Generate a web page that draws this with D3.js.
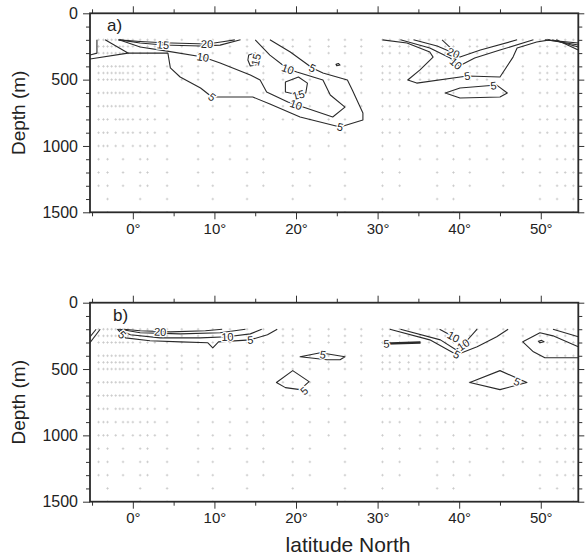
<!DOCTYPE html>
<html>
<head>
<meta charset="utf-8">
<script src="https://cdn.jsdelivr.net/npm/d3@7"></script>
<style>
  html, body { margin: 0; padding: 0; background: #fff; }
  svg { display: block; font-family: "Liberation Sans", Arial, Helvetica, sans-serif; }
</style>
</head>
<body>
<svg id="chart" width="585" height="559"></svg>
<script>
// ---- axis ticks -------------------------------------------------------
const latMajorTicks = [0, 10, 20, 30, 40, 50];
const latMinorTicks = [-5, 5, 15, 25, 35, 45];
const depthMajorTicks = [0, 500, 1000, 1500];
const depthMinorTicks = [100, 200, 300, 400, 600, 700, 800, 900, 1100, 1200, 1300, 1400];

// ---- sampling stations (latitude, deepest sampled level) ---------------
const stationLat = [-4.2, -3.6, -3.1, -2.6, -2.1, -1.6, -1.2, -0.6, 0, 0.9, 1.8, 2.7, 4.2, 6.0,
  8.0, 9.8, 11.9, 14.0, 16.0, 18.4, 19.6, 21.7, 24.0, 26.0, 28.0, 30.6, 31.5, 32.7, 33.8, 35.2,
  36.3, 37.3, 38.3, 39.3, 41.3, 42.2, 43.4, 45.4, 47.8, 49.9, 50.8, 52.0, 53.0, 54.0];
const stationBottom = [1300, 1000, 1500, 700, 1000, 800, 1300, 900, 1000, 1500, 1300, 1000, 1500, 500,
  1300, 1500, 1100, 1400, 1300, 800, 1500, 1300, 1000, 1500, 700, 1500, 900, 1300, 800, 1100,
  600, 1400, 900, 1500, 1300, 700, 1100, 1300, 1200, 1500, 900, 1400, 1300, 1500];
const sampleDepths = [200, 250, 300, 400, 450, 500, 600, 700, 800, 900, 1000, 1100, 1200, 1300, 1400, 1500];

// ---- panel a contours: [latitude, depth] --------------------------------
const contoursA = [
  { level: 5,  closed: false, pts: [[-4.4,200],[-4.4,300],[-5.25,315]] },
  { level: 5,  closed: false, pts: [[-3.4,200],[-0.6,300],[-5.25,345]] },
  { level: 20, closed: false, pts: [[-1.8,200],[0.9,212],[3.7,222],[9.1,231],[11.0,214],[12.5,200]] },
  { level: 15, closed: false, pts: [[-1.6,200],[0.9,224],[3.7,239],[8.3,246],[10.7,240],[13.2,200]] },
  { level: 10, closed: false, pts: [[-1.7,200],[0.9,254],[4.2,285],[8.6,330],[10.7,375],[14.4,465],
      [15.6,503],[16.4,593],[19.0,669],[20.5,699],[24.5,782],[26.0,707],[24.2,616],[23.3,503],
      [20.1,443],[19.0,420],[16.8,315],[15.0,200]] },
  { level: 5,  closed: false, pts: [[-0.6,300],[4.3,300],[4.6,412],[5.8,480],[8.3,563],[9.7,631],
      [14.7,631],[16.8,684],[20.5,782],[25.4,857],[28.2,805],[28.2,752],[26.9,578],[26.3,503],
      [23.3,450],[22.0,412],[19.3,292],[16.8,200]] },
  { level: 15, closed: true,  pts: [[14.2,315],[15.0,299],[15.3,337],[15.1,390],[14.4,397],[14.1,352]] },
  { level: 15, closed: true,  pts: [[18.7,518],[20.3,480],[21.4,526],[21.2,601],[20.3,616],[18.7,593]] },
  { level: 15, closed: true,  pts: [[24.9,385],[25.2,378],[25.4,390],[25.0,396]] },
  { level: 5,  closed: false, pts: [[30.6,200],[33.6,224],[36.4,292],[36.8,330],[35.2,427],[33.7,503],
      [34.8,526],[41.0,473],[45.0,480],[46.6,330],[47.1,262],[49.5,216],[51.1,200]] },
  { level: 10, closed: false, pts: [[32.8,200],[36.4,262],[38.9,337],[40.0,397],[41.9,337],[45.0,277],[49.1,200]] },
  { level: 20, closed: false, pts: [[34.4,200],[37.3,247],[39.3,299],[40.1,330],[42.6,277],[47.1,200]] },
  { level: 20, closed: false, pts: [[37.9,200],[39.5,292]] },
  { level: 5,  closed: false, pts: [[50.5,200],[54.6,224]] },
  { level: 10, closed: false, pts: [[50.9,200],[54.6,239]] },
  { level: 15, closed: false, pts: [[51.4,200],[54.6,254]] },
  { level: 20, closed: false, pts: [[51.9,200],[54.6,277]] },
  { level: 5,  closed: true,  pts: [[38.3,601],[40.1,563],[44.6,541],[45.9,601],[45.0,631],[40.1,639]] }
];
const labelsA = [
  { text: "15", at: [3.7,239] },  { text: "20", at: [9.1,231] },
  { text: "10", at: [8.6,330] },  { text: "5",  at: [9.7,631] },
  { text: "15", at: [15.1,350] }, { text: "10", at: [19.0,420] },
  { text: "5",  at: [22.0,412] }, { text: "15", at: [20.3,616] },
  { text: "10", at: [20.0,690] }, { text: "5",  at: [25.4,857] },
  { text: "20", at: [39.3,299] }, { text: "10", at: [39.6,380] },
  { text: "5",  at: [41.0,473] }, { text: "5",  at: [44.2,545] }
];

// ---- panel b contours ----------------------------------------------------
const contoursB = [
  { level: 5,  closed: false, pts: [[-5.25,302],[-4.0,200]] },
  { level: 10, closed: false, pts: [[-5.25,257],[-4.5,200]] },
  { level: 5,  closed: false, pts: [[-1.9,200],[-0.9,265],[2.1,287],[5.8,295],[9.2,302],[9.8,340],
      [10.5,295],[14.4,280],[16.5,242],[17.7,200]] },
  { level: 10, closed: false, pts: [[-1.8,200],[-0.3,242],[3.35,265],[8.25,265],[11.6,257],[14.4,235],[15.8,200]] },
  { level: 15, closed: false, pts: [[-1.6,200],[0.9,227],[5.8,235],[10.7,227],[13.8,200]] },
  { level: 20, closed: false, pts: [[-1.1,200],[0.9,212],[4.6,220],[8.9,212],[10.95,200]] },
  { level: 5,  closed: true,  pts: [[20.5,407],[23.0,377],[24.5,392],[26.0,407],[25.4,430],[23.8,430]] },
  { level: 5,  closed: true,  pts: [[17.6,602],[19.6,512],[21.6,595],[20.5,655],[18.7,640]] },
  { level: 5,  closed: true,  pts: [[30.7,305],[35.2,295],[35.2,305],[31.0,312]] },
  { level: 5,  closed: false, pts: [[31.5,200],[36.4,280],[39.7,392],[42.2,332],[44.6,257],[46.0,200]] },
  { level: 10, closed: false, pts: [[32.8,200],[37.7,280],[39.6,355],[40.5,317],[42.2,200]] },
  { level: 10, closed: false, pts: [[37.6,200],[39.3,257]] },
  { level: 5,  closed: false, pts: [[54.6,332],[51.5,250],[49.9,227],[47.8,295],[49.1,370],[50.5,415],[54.6,415]] },
  { level: 10, closed: true,  pts: [[49.7,290],[50.1,284],[50.4,294],[49.9,302]] },
  { level: 10, closed: false, pts: [[51.5,200],[54.6,257]] },
  { level: 5,  closed: true,  pts: [[41.3,602],[45.0,512],[48.3,602],[45.0,655]] }
];
const labelsB = [
  { text: "5",  at: [-1.3,242] }, { text: "20", at: [3.35,220] },
  { text: "10", at: [11.6,257] }, { text: "5",  at: [14.4,280] },
  { text: "5",  at: [23.3,392] }, { text: "5",  at: [21.0,665] },
  { text: "5",  at: [31.1,310] }, { text: "10", at: [39.3,257] },
  { text: "10", at: [40.5,317] }, { text: "5",  at: [39.7,392] },
  { text: "5",  at: [47.1,595] }
];

// ---- layout --------------------------------------------------------------
const svg = d3.select("#chart");
const x = d3.scaleLinear().domain([-5.25, 54.6]).range([90, 578.3]);
const panels = [
  { name: "a)", top: 13.3, nameX: 107, contours: contoursA, labels: labelsA },
  { name: "b)", top: 302.7, nameX: 113, contours: contoursB, labels: labelsB }
];
const panelH = 199;

const fmtLat = d => d + "\u00b0";
const fmtDepth = d => String(d);

panels.forEach((p, i) => {
  const y = d3.scaleLinear().domain([0, 1500]).range([p.top, p.top + panelH]);
  const g = svg.append("g");
  const clipId = "clip" + i;
  g.append("clipPath").attr("id", clipId).append("rect")
    .attr("x", x.range()[0]).attr("y", p.top)
    .attr("width", x.range()[1] - x.range()[0]).attr("height", panelH);

  // station marks
  const marks = [];
  stationLat.forEach((lat, k) => {
    sampleDepths.forEach(dep => { if (dep <= stationBottom[k]) marks.push([lat, dep]); });
  });
  g.append("g").attr("clip-path", `url(#${clipId})`)
    .selectAll("path").data(marks).join("path")
    .attr("transform", d => `translate(${x(d[0])},${y(d[1])})`)
    .attr("d", "M-1.3,0H1.3M0,-1.3V1.3")
    .attr("stroke", "#c4c4c4").attr("stroke-width", 0.7);

  // contour lines
  const lineOpen = d3.line().x(d => x(d[0])).y(d => y(d[1]));
  const lineClosed = d3.line().x(d => x(d[0])).y(d => y(d[1])).curve(d3.curveLinearClosed);
  g.append("g").attr("clip-path", `url(#${clipId})`)
    .selectAll("path").data(p.contours).join("path")
    .attr("d", c => (c.closed ? lineClosed : lineOpen)(c.pts))
    .attr("fill", "none").attr("stroke", "#2a2a2a").attr("stroke-width", 1.1)
    .attr("stroke-linejoin", "round");

  // contour labels, oriented along the nearest contour segment
  function angleAt(pt) {
    const px = x(pt[0]), py = y(pt[1]);
    let best = Infinity, ang = 0;
    p.contours.forEach(c => {
      const pts = c.pts.map(q => [x(q[0]), y(q[1])]);
      const n = c.closed ? pts.length : pts.length - 1;
      for (let k = 0; k < n; k++) {
        const a = pts[k], b = pts[(k + 1) % pts.length];
        const dx = b[0] - a[0], dy = b[1] - a[1];
        const L2 = dx * dx + dy * dy || 1;
        let t = ((px - a[0]) * dx + (py - a[1]) * dy) / L2;
        t = Math.max(0, Math.min(1, t));
        const ex = a[0] + t * dx - px, ey = a[1] + t * dy - py;
        const dist = ex * ex + ey * ey;
        if (dist < best) { best = dist; ang = Math.atan2(dy, dx) * 180 / Math.PI; }
      }
    });
    if (ang > 90) ang -= 180;
    if (ang < -90) ang += 180;
    return ang;
  }
  g.append("g").selectAll("text").data(p.labels).join("text")
    .attr("transform", d => `translate(${x(d.at[0])},${y(d.at[1])}) rotate(${angleAt(d.at)})`)
    .attr("text-anchor", "middle").attr("dy", "0.35em")
    .attr("font-size", 11).attr("fill", "#222")
    .attr("stroke", "#fff").attr("stroke-width", 2.5).attr("paint-order", "stroke")
    .text(d => d.text);

  // axes
  const styleAxis = sel => {
    sel.select(".domain").remove();
    sel.selectAll(".tick line").attr("stroke", "#333").attr("stroke-width", 1);
    sel.selectAll(".tick text").attr("fill", "#222").attr("font-family", null);
  };
  const bottom = p.top + panelH;
  g.append("g").attr("transform", `translate(0,${p.top})`)
    .call(d3.axisTop(x).tickValues(latMajorTicks).tickSize(7).tickFormat("")).call(styleAxis);
  g.append("g").attr("transform", `translate(0,${p.top})`)
    .call(d3.axisTop(x).tickValues(latMinorTicks).tickSize(4).tickFormat("")).call(styleAxis);
  g.append("g").attr("transform", `translate(0,${bottom})`)
    .call(d3.axisBottom(x).tickValues(latMajorTicks).tickSize(7).tickPadding(4).tickFormat(fmtLat))
    .call(styleAxis).call(s => s.selectAll("text").attr("font-size", 15));
  g.append("g").attr("transform", `translate(0,${bottom})`)
    .call(d3.axisBottom(x).tickValues(latMinorTicks).tickSize(4).tickFormat("")).call(styleAxis);
  g.append("g").attr("transform", `translate(${x.range()[0]},0)`)
    .call(d3.axisLeft(y).tickValues(depthMajorTicks).tickSize(7).tickPadding(5).tickFormat(fmtDepth))
    .call(styleAxis).call(s => s.selectAll("text").attr("font-size", 16));
  g.append("g").attr("transform", `translate(${x.range()[0]},0)`)
    .call(d3.axisLeft(y).tickValues(depthMinorTicks).tickSize(4).tickFormat("")).call(styleAxis);
  g.append("g").attr("transform", `translate(${x.range()[1]},0)`)
    .call(d3.axisRight(y).tickValues(depthMajorTicks).tickSize(6).tickFormat("")).call(styleAxis);
  g.append("g").attr("transform", `translate(${x.range()[1]},0)`)
    .call(d3.axisRight(y).tickValues(depthMinorTicks).tickSize(4).tickFormat("")).call(styleAxis);

  // frame
  g.append("rect")
    .attr("x", x.range()[0]).attr("y", p.top)
    .attr("width", x.range()[1] - x.range()[0]).attr("height", panelH)
    .attr("fill", "none").attr("stroke", "#2a2a2a").attr("stroke-width", 1.8);

  // panel tag
  g.append("text").attr("x", p.nameX).attr("y", p.top + 18)
    .attr("font-size", 17).attr("fill", "#222").text(p.name);

  // depth title
  g.append("text")
    .attr("transform", `translate(25,${p.top + panelH / 2}) rotate(-90)`)
    .attr("text-anchor", "middle").attr("font-size", 19).attr("fill", "#222")
    .text("Depth (m)");
});

svg.append("text").attr("x", 348).attr("y", 552)
  .attr("text-anchor", "middle").attr("font-size", 21).attr("fill", "#222")
  .text("latitude North");
</script>
</body>
</html>
